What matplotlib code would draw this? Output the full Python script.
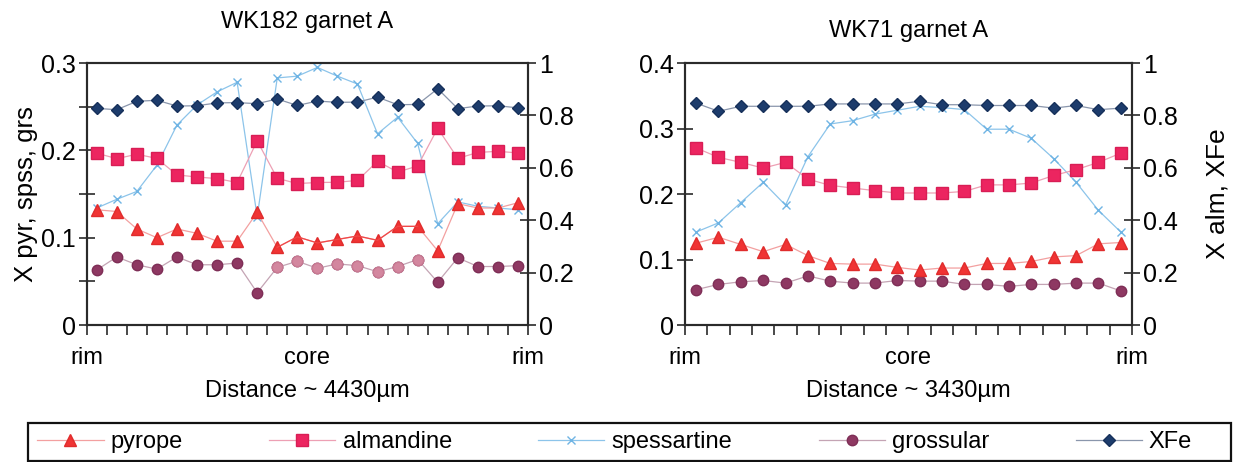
"""
Garnet zoning profiles, rim-core-rim, for two samples.
Pyrope, spessartine and grossular on the left axis; almandine and XFe on the right.
"""

import numpy as np
import matplotlib
matplotlib.use('Agg')
import matplotlib.pyplot as plt
from matplotlib.lines import Line2D
from matplotlib.patches import Rectangle

plt.rcParams['font.family'] = ['Liberation Sans', 'DejaVu Sans']

# WK182 garnet A, 22 spots rim to rim (~4430 um)
wk182_pyrope = [0.132, 0.130, 0.110, 0.100, 0.110, 0.105, 0.096, 0.096, 0.129, 0.089, 0.101,
                0.094, 0.098, 0.102, 0.097, 0.113, 0.113, 0.085, 0.139, 0.134, 0.134, 0.140]
wk182_almandine = [0.656, 0.635, 0.652, 0.636, 0.573, 0.565, 0.559, 0.544, 0.703, 0.560, 0.540,
                   0.544, 0.545, 0.552, 0.625, 0.584, 0.607, 0.751, 0.636, 0.659, 0.663, 0.657]
wk182_spessartine = [0.134, 0.144, 0.153, 0.183, 0.229, 0.252, 0.267, 0.278, 0.124, 0.283, 0.285,
                     0.295, 0.285, 0.276, 0.219, 0.238, 0.208, 0.116, 0.141, 0.136, 0.134, 0.132]
wk182_grossular = [0.063, 0.078, 0.069, 0.064, 0.078, 0.069, 0.069, 0.071, 0.037, 0.066, 0.073,
                   0.065, 0.070, 0.068, 0.061, 0.067, 0.075, 0.049, 0.077, 0.067, 0.067, 0.068]
wk182_xfe = [0.827, 0.822, 0.854, 0.858, 0.836, 0.837, 0.848, 0.849, 0.845, 0.863, 0.838,
             0.855, 0.850, 0.851, 0.870, 0.841, 0.842, 0.902, 0.826, 0.836, 0.837, 0.829]
# spots 10-17 were a second traverse segment, drawn in lighter tones
wk182_core_spots = list(range(9, 17))

# WK71 garnet A, 20 spots rim to rim (~3430 um)
wk71_pyrope = [0.125, 0.134, 0.123, 0.112, 0.123, 0.106, 0.094, 0.093, 0.093, 0.088,
               0.084, 0.087, 0.087, 0.094, 0.094, 0.097, 0.104, 0.106, 0.124, 0.126]
wk71_almandine = [0.676, 0.640, 0.621, 0.599, 0.621, 0.557, 0.533, 0.523, 0.513, 0.504,
                  0.504, 0.504, 0.510, 0.535, 0.535, 0.542, 0.571, 0.593, 0.621, 0.656]
wk71_spessartine = [0.142, 0.156, 0.187, 0.218, 0.183, 0.257, 0.307, 0.312, 0.322, 0.328,
                    0.334, 0.332, 0.329, 0.299, 0.299, 0.285, 0.254, 0.218, 0.175, 0.142]
wk71_grossular = [0.054, 0.062, 0.066, 0.068, 0.064, 0.075, 0.067, 0.064, 0.064, 0.068,
                  0.067, 0.067, 0.062, 0.062, 0.059, 0.062, 0.062, 0.064, 0.064, 0.052]
wk71_xfe = [0.847, 0.816, 0.835, 0.835, 0.835, 0.835, 0.844, 0.844, 0.844, 0.844,
            0.854, 0.841, 0.841, 0.838, 0.838, 0.838, 0.828, 0.838, 0.822, 0.828]

STYLE = {
    'pyrope': dict(marker='^', ms=8.5, mfc='#f03434', mec='#e02c2c', color='#f3a0a0', lw=0.9),
    'almandine': dict(marker='s', ms=8, mfc='#ec2560', mec='#d81e55', color='#eda0b4', lw=0.9),
    'spessartine': dict(marker='x', ms=6, mew=1.0, mec='#6fb4e4', color='#8cc4ea', lw=0.9),
    'grossular': dict(marker='o', ms=7.5, mfc='#8e3862', mec='#7e2e56', color='#c4a4b4', lw=0.9),
    'XFe': dict(marker='D', ms=6.5, mfc='#1d3c6c', mec='#16305a', color='#8a96ac', lw=0.9),
}

SPINE = '#2a2a2a'
FS = 16


def style_axes(ax, axr, n, left_max, left_step, left_minor):
    ax.set_xlim(-0.5, n - 0.5)
    ax.set_ylim(0, left_max)
    axr.set_ylim(0, 1)

    ticks = np.arange(n + 1) - 0.5
    labels = [''] * (n + 1)
    labels[0], labels[n // 2], labels[-1] = 'rim', 'core', 'rim'
    ax.set_xticks(ticks)
    ax.set_xticklabels(labels, fontsize=FS + 1)
    ax.tick_params(axis='x', direction='out', length=7.5, width=1.2, color=SPINE, pad=8)

    yt = np.round(np.arange(0, left_max + 1e-9, left_minor), 3)
    ax.set_yticks(yt)
    ax.set_yticklabels([f'{v:g}' if abs(v / left_step - round(v / left_step)) < 1e-6 else ''
                        for v in yt], fontsize=FS + 2)
    ax.tick_params(axis='y', direction='inout', length=12, width=1.2, color=SPINE, pad=2)

    rt = np.round(np.arange(0, 1.01, 0.2), 1)
    axr.set_yticks(rt)
    axr.set_yticklabels([f'{v:g}' for v in rt], fontsize=FS + 2)
    axr.tick_params(axis='y', direction='inout', length=12, width=1.2, color=SPINE, pad=2)

    for a in (ax, axr):
        for s in a.spines.values():
            s.set_color(SPINE)
            s.set_linewidth(1.5)


def draw_profile(ax, title, distance, pyr, alm, sps, grs, xfe, core=None, title_pad=25):
    n = len(pyr)
    x = np.arange(n)
    axr = ax.twinx()

    ax.plot(x, sps, **STYLE['spessartine'], zorder=3)
    ax.plot(x, grs, **STYLE['grossular'], zorder=3)
    ax.plot(x, pyr, **STYLE['pyrope'], zorder=4)
    if core:
        c = np.array(core)
        ax.plot(c, np.array(pyr)[c], color='#f04848', lw=0.9, zorder=4)
        ax.plot(c, np.array(grs)[c], ls='none', marker='o', ms=7.5,
                mfc='#d3879f', mec='#c97a93', zorder=5)

    axr.plot(x, alm, **STYLE['almandine'], zorder=3)
    axr.plot(x, xfe, **STYLE['XFe'], zorder=4)

    ax.set_title(title, fontsize=FS + 1, pad=title_pad)
    ax.set_xlabel(distance, fontsize=FS + 1, labelpad=8)
    return axr


fig = plt.figure(figsize=(12.42, 4.62), dpi=100)

ax1 = fig.add_axes([0.0698, 0.2965, 0.3553, 0.567])
ax1r = draw_profile(ax1, 'WK182 garnet A', 'Distance ~ 4430\u00b5m',
                    wk182_pyrope, wk182_almandine, wk182_spessartine,
                    wk182_grossular, wk182_xfe, core=wk182_core_spots, title_pad=25)
style_axes(ax1, ax1r, len(wk182_pyrope), 0.3, 0.1, 0.05)
ax1.set_ylabel('X pyr, spss, grs', fontsize=FS + 2.5, labelpad=2)

ax2 = fig.add_axes([0.5515, 0.2965, 0.3599, 0.567])
ax2r = draw_profile(ax2, 'WK71 garnet A', 'Distance ~ 3430\u00b5m',
                    wk71_pyrope, wk71_almandine, wk71_spessartine,
                    wk71_grossular, wk71_xfe, title_pad=19)
style_axes(ax2, ax2r, len(wk71_pyrope), 0.4, 0.1, 0.1)
ax2r.set_ylabel('X alm, XFe', fontsize=FS + 3, labelpad=20)

# shared legend along the bottom, framed by a separate box
handles = [Line2D([], [], **STYLE[k]) for k in STYLE]
fig.legend(handles, list(STYLE.keys()), loc='center left', ncol=5, mode='expand',
           bbox_to_anchor=(0.0225, 0.002, 0.945, 0.082), borderaxespad=0,
           fontsize=FS + 1, handlelength=2.8, handletextpad=0.3, frameon=False)
fig.patches.append(Rectangle((0.0225, 0.002), 0.969, 0.082, transform=fig.transFigure,
                             fill=False, edgecolor='#111111', linewidth=1.6))

fig.savefig('out.png', dpi=100)
